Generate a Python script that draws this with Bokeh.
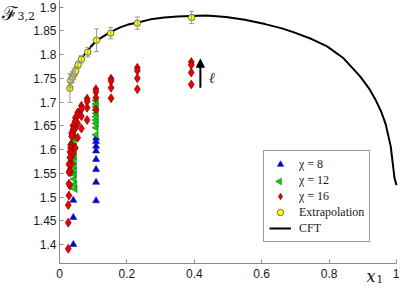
import math
from bokeh.plotting import figure
from bokeh.models import (Range1d, FixedTicker, CustomJSTickFormatter, Legend, LegendItem,
                          Label, Arrow, NormalHead, Whisker, TeeHead, ColumnDataSource, LinearAxis)
from bokeh.embed import file_html
from bokeh.resources import INLINE

# ---------------- data ----------------
x_ticks = [0, 0.2, 0.4, 0.6, 0.8, 1.0]
y_ticks = [1.4, 1.45, 1.5, 1.55, 1.6, 1.65, 1.7, 1.75, 1.8, 1.85, 1.9]

# CFT curve
cft_x = [0.029, 0.033, 0.038, 0.045, 0.052, 0.065, 0.081, 0.095, 0.108, 0.13, 0.151, 0.18,
         0.203, 0.23, 0.27, 0.311, 0.35, 0.39, 0.436, 0.494, 0.55, 0.61, 0.66, 0.698, 0.75,
         0.794, 0.843, 0.892, 0.92, 0.939, 0.955, 0.968, 0.983, 0.994, 1.0]
cft_y = [1.731, 1.745, 1.758, 1.768, 1.779, 1.792, 1.806, 1.818, 1.828, 1.838, 1.847, 1.857,
         1.863, 1.867, 1.874, 1.878, 1.880, 1.881, 1.882, 1.879, 1.873, 1.864, 1.855, 1.846, 1.832,
         1.817, 1.792, 1.754, 1.727, 1.703, 1.679, 1.653, 1.606, 1.540, 1.525]

# Extrapolation with error bars
ext_x = [0.031, 0.033, 0.038, 0.043, 0.048, 0.055, 0.065, 0.084, 0.110, 0.152, 0.231, 0.392]
ext_y = [1.729, 1.745, 1.753, 1.759, 1.765, 1.778, 1.790, 1.805, 1.830, 1.845, 1.866, 1.878]
ext_err = [0.030, 0.015, 0.012, 0.012, 0.010, 0.008, 0.008, 0.010, 0.024, 0.012, 0.013, 0.013]

# chi = 8
chi8_x = [0.041, 0.041, 0.041, 0.1085, 0.1085, 0.1085, 0.1085, 0.1085, 0.1085, 0.1085, 0.1085]
chi8_y = [1.400, 1.457, 1.493, 1.492, 1.531, 1.558, 1.579, 1.597, 1.607, 1.617, 1.624]

# chi = 12
chi12_x = [0.046, 0.045, 0.043, 0.044, 0.043, 0.044, 0.043, 0.044, 0.043, 0.044, 0.043, 0.043, 0.042,
           0.1085, 0.1085, 0.1085, 0.1085, 0.1085, 0.1085, 0.1085, 0.1085, 0.1085, 0.1085]
chi12_y = [1.517, 1.527, 1.538, 1.548, 1.556, 1.566, 1.576, 1.586, 1.596, 1.606, 1.617, 1.625, 1.634,
           1.631, 1.646, 1.655, 1.662, 1.669, 1.676, 1.683, 1.690, 1.696, 1.703]

# chi = 16
chi16_x = [0.391] * 4 + [0.231] * 4 + [0.153] * 4 + [0.108] * 4 + [0.082] * 4 + [0.065] * 4 + \
          [0.054] * 4 + [0.047] * 4 + [0.040] * 4 + [0.036] * 4 + [0.033] * 4 + [0.031] * 4 + \
          [0.028] * 4 + [0.026] * 3
chi16_y = [1.784, 1.778, 1.762, 1.737,
           1.772, 1.766, 1.750, 1.727,
           1.749, 1.744, 1.730, 1.708,
           1.727, 1.721, 1.709, 1.684,
           1.707, 1.701, 1.688, 1.662,
           1.692, 1.685, 1.670, 1.644,
           1.678, 1.672, 1.655, 1.625,
           1.667, 1.660, 1.645, 1.603,
           1.650, 1.642, 1.630, 1.590,
           1.635, 1.628, 1.610, 1.570,
           1.610, 1.603, 1.583, 1.552,
           1.595, 1.583, 1.557, 1.524,
           1.569, 1.552, 1.528, 1.503,
           1.483, 1.446, 1.391]

arrow_x = 0.418
arrow_y0 = 1.730
arrow_y1 = 1.790
ell_x = 0.452
ell_y = 1.750

x_axis_min, x_axis_max = 0.0, 1.0
y_axis_min = 1.36

legend_labels = ["χ = 8", "χ = 12", "χ = 16", "Extrapolation", "CFT"]

# ---------------- layout (canvas pixels) ----------------
W, H = 399, 286
X0_PX, X1_PX = 59, 396        # canvas x of x=0 and x=1
Y19_PX, YB_PX = 6.5, 263      # canvas y of y=1.9 and of y=1.36
sx = (X1_PX - X0_PX) / (x_axis_max - x_axis_min)
sy = (YB_PX - Y19_PX) / (1.9 - y_axis_min)
x_lo = x_axis_min - X0_PX / sx
x_hi = x_axis_max + (W - X1_PX) / sx
y_hi = 1.9 + Y19_PX / sy
y_lo = y_axis_min - (H - YB_PX) / sy


def dx(px):
    return x_lo + px / sx


def dy(py):
    return y_hi - py / sy


p = figure(width=W, height=H, output_backend="svg", toolbar_location=None,
           x_range=Range1d(x_lo, x_hi), y_range=Range1d(y_lo, y_hi),
           x_axis_location=None, y_axis_location=None,
           min_border=0, min_border_left=0, min_border_right=0,
           min_border_top=0, min_border_bottom=0)
p.xgrid.visible = False
p.ygrid.visible = False
p.outline_line_color = None
p.background_fill_color = "white"

fmt = CustomJSTickFormatter(code="return String(Math.round(tick*1000)/1000)")
xax = LinearAxis(ticker=FixedTicker(ticks=x_ticks), formatter=fmt,
                 fixed_location=y_axis_min, bounds=(x_axis_min, x_axis_max))
yax = LinearAxis(ticker=FixedTicker(ticks=y_ticks), formatter=fmt,
                 fixed_location=x_axis_min, bounds=(y_axis_min, y_hi))
for ax in (xax, yax):
    ax.axis_line_color = "#8a8a8a"
    ax.major_tick_line_color = "#8a8a8a"
    ax.minor_tick_line_color = None
    ax.major_tick_in = 4
    ax.major_tick_out = 0
    ax.major_label_text_font = "Liberation Sans"
    ax.major_label_text_font_size = "12px"
    ax.major_label_text_color = "#1a1a1a"
xax.major_label_standoff = 5
yax.major_label_standoff = 3
p.add_layout(xax, "below")
p.add_layout(yax, "left")

# CFT curve
r_cft = p.line(cft_x, cft_y, line_color="black", line_width=2)

# error bars
esrc = ColumnDataSource(dict(x=ext_x, lo=[y - e for y, e in zip(ext_y, ext_err)],
                             hi=[y + e for y, e in zip(ext_y, ext_err)]))
wh = Whisker(source=esrc, base="x", lower="lo", upper="hi", dimension="height",
             line_color="#9a9a9a", line_width=1, level="glyph",
             upper_head=TeeHead(size=5, line_color="#9a9a9a", line_width=1),
             lower_head=TeeHead(size=5, line_color="#9a9a9a", line_width=1))
p.add_layout(wh)

r_b = p.scatter(chi8_x, chi8_y, marker="triangle", size=7, fill_color="#0000ee",
                line_color="#202070", line_width=0.6)
r_g = p.scatter(chi12_x, chi12_y, marker="triangle", angle=math.pi / 2, angle_units="rad",
                size=7, fill_color="#00dd00", line_color="#206020", line_width=0.6)
r_r = p.scatter(chi16_x, chi16_y, marker="diamond", size=9, fill_color="#ee0000",
                line_color="#600000", line_width=0.6)
r_y = p.scatter(ext_x, ext_y, marker="circle", size=6.5, fill_color="#ffff00",
                line_color="#333333", line_width=0.7)

# arrow and ell
p.add_layout(Arrow(x_start=arrow_x, y_start=arrow_y0, x_end=arrow_x, y_end=arrow_y1,
                   line_width=2, line_color="black",
                   end=NormalHead(size=8, fill_color="black", line_color="black")))
p.add_layout(Label(x=ell_x, y=ell_y, text="ℓ", text_font="DejaVu Serif", text_font_style="italic",
                   text_font_size="15px", text_color="#333333", text_align="center",
                   text_baseline="middle"))

# axis titles
p.add_layout(Label(x=dx(1), y=dy(1), text="ℱ", text_font="DejaVu Serif", text_font_size="19px",
                   text_baseline="top", text_color="#111111"))
p.add_layout(Label(x=dx(17), y=dy(11), text="3,2", text_font="DejaVu Serif",
                   text_font_size="11px", text_baseline="top", text_color="#111111"))
p.add_layout(Label(x=dx(366), y=dy(266), text="x", text_font="DejaVu Serif",
                   text_font_style="italic", text_font_size="16px",
                   text_baseline="top", text_color="#111111"))
p.add_layout(Label(x=dx(376), y=dy(274), text="1", text_font="DejaVu Serif",
                   text_font_size="10.5px", text_baseline="top", text_color="#111111"))

# legend (transparent background; the area behind it is empty)
LEG_X, LEG_BOTTOM, LEG_PAD, LEG_GW, LEG_ROW = 263, 44, 5, 22, 16
r_g_leg = p.scatter([], [], marker="triangle", fill_alpha=0, line_alpha=0)
legend = Legend(items=[LegendItem(label=legend_labels[0], renderers=[r_b]),
                       LegendItem(label=legend_labels[1], renderers=[r_g_leg]),
                       LegendItem(label=legend_labels[2], renderers=[r_r]),
                       LegendItem(label=legend_labels[3], renderers=[r_y]),
                       LegendItem(label=legend_labels[4], renderers=[r_cft])],
                location=(LEG_X, LEG_BOTTOM), label_text_font="Liberation Serif",
                label_text_font_size="12px", label_text_color="#222222",
                glyph_width=LEG_GW, glyph_height=LEG_ROW, label_height=LEG_ROW, spacing=0,
                padding=LEG_PAD, margin=0, label_standoff=8,
                border_line_color="#333333", border_line_width=1,
                background_fill_alpha=0)
p.add_layout(legend)
# left-pointing swatch for the chi = 12 legend entry (legend glyphs are never rotated)
leg_top = H - LEG_BOTTOM - (5 * LEG_ROW + 2 * LEG_PAD)
cx = LEG_X + LEG_PAD + LEG_GW / 2
cy = leg_top + LEG_PAD + 1.5 * LEG_ROW
p.scatter([dx(cx)], [dy(cy)], marker="triangle", angle=math.pi / 2, angle_units="rad",
          size=6.4, fill_color="#00dd00", line_color="#206020", line_width=0.6)

open("out.html", "w").write(file_html(p, INLINE))
